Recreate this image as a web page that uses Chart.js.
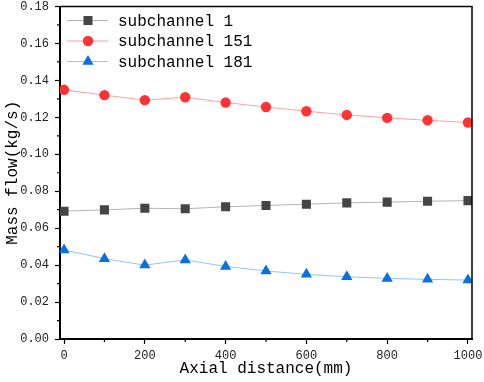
<!DOCTYPE html>
<html>
<head>
<meta charset="utf-8">
<script src="https://cdn.jsdelivr.net/npm/chart.js@4/dist/chart.umd.min.js"></script>
<style>
  html, body { margin: 0; padding: 0; background: #fff; }
  #wrap { width: 484px; height: 382px; }
</style>
</head>
<body>
<div id="wrap"><canvas id="chartFlow" width="484" height="382"></canvas></div>
<script>
'use strict';

// axial positions (mm)
const axialDistance = [0, 100, 200, 300, 400, 500, 600, 700, 800, 900, 1000];

// mass flow per subchannel (kg/s)
const flowSub1 = [0.0692, 0.0699, 0.0708, 0.0705, 0.0716, 0.0723, 0.0730, 0.0737, 0.0741, 0.0746, 0.0749];
const flowSub151 = [0.1349, 0.1320, 0.1293, 0.1309, 0.1280, 0.1256, 0.1233, 0.1213, 0.1197, 0.1184, 0.1172];
const flowSub181 = [0.0482, 0.0435, 0.0400, 0.0428, 0.0393, 0.0368, 0.0350, 0.0337, 0.0328, 0.0323, 0.0319];

const seriesNames = ['subchannel 1', 'subchannel 151', 'subchannel 181'];

// tick marks
const xMajorTicks = [0, 200, 400, 600, 800, 1000];
const xMinorTicks = [100, 300, 500, 700, 900];
const yMajorTicks = [0, 0.02, 0.04, 0.06, 0.08, 0.10, 0.12, 0.14, 0.16, 0.18];
const yMinorTicks = [0.01, 0.03, 0.05, 0.07, 0.09, 0.11, 0.13, 0.15, 0.17];

const FONT = "'Liberation Mono', 'DejaVu Sans Mono', monospace";

function toPoints(ys) {
  return axialDistance.map((x, i) => ({ x: x, y: ys[i] }));
}

// frame, minor ticks and legend
const framePlugin = {
  id: 'frame',
  afterDatasetsDraw(chart) {
    const { ctx, chartArea: a } = chart;
    const xs = chart.scales.x, ys = chart.scales.y;
    ctx.save();
    ctx.strokeStyle = '#000';
    ctx.lineWidth = 1.5;
    ctx.beginPath();
    ctx.moveTo(a.left, a.top);
    ctx.lineTo(a.right, a.top);
    ctx.lineTo(a.right, a.bottom);
    ctx.stroke();
    ctx.lineWidth = 1.2;
    ctx.beginPath();
    xMinorTicks.forEach(v => {
      const px = xs.getPixelForValue(v);
      ctx.moveTo(px, a.bottom);
      ctx.lineTo(px, a.bottom + 3);
    });
    yMinorTicks.forEach(v => {
      const py = ys.getPixelForValue(v);
      ctx.moveTo(a.left, py);
      ctx.lineTo(a.left - 3, py);
    });
    ctx.stroke();

    // legend
    ctx.font = '16px ' + FONT;
    ctx.textBaseline = 'middle';
    chart.data.datasets.forEach((ds, i) => {
      const yy = a.top + 14 + i * 20.5;
      ctx.strokeStyle = ds.borderColor;
      ctx.lineWidth = 1;
      ctx.beginPath();
      ctx.moveTo(a.left + 7, yy);
      ctx.lineTo(a.left + 48, yy);
      ctx.stroke();
      ctx.fillStyle = ds.pointBackgroundColor;
      ctx.strokeStyle = ds.pointBackgroundColor;
      Chart.helpers.drawPoint(ctx, {
        pointStyle: ds.pointStyle,
        radius: ds.pointRadius,
        borderWidth: 0,
        rotation: 0
      }, a.left + 28, yy);
      ctx.fillStyle = '#000';
      ctx.fillText(ds.label, a.left + 58, yy + 1);
    });
    ctx.restore();
  }
};

const config = {
  type: 'line',
  data: {
    datasets: [
      {
        label: seriesNames[0],
        data: toPoints(flowSub1),
        borderColor: '#b4b4b4',
        borderWidth: 1,
        pointStyle: 'rect',
        pointRadius: 6.4,
        pointBackgroundColor: '#454545',
        pointBorderWidth: 0
      },
      {
        label: seriesNames[1],
        data: toPoints(flowSub151),
        borderColor: '#ffa0a0',
        borderWidth: 1,
        pointStyle: 'circle',
        pointRadius: 5.2,
        pointBackgroundColor: '#ff3333',
        pointBorderWidth: 0
      },
      {
        label: seriesNames[2],
        data: toPoints(flowSub181),
        borderColor: '#93c6ef',
        borderWidth: 1,
        pointStyle: 'triangle',
        pointRadius: 6.5,
        pointBackgroundColor: '#0a6fdf',
        pointBorderWidth: 0
      }
    ]
  },
  options: {
    responsive: false,
    animation: false,
    devicePixelRatio: 1,
    layout: { padding: { top: 6, right: 12, left: 0, bottom: 0 } },
    plugins: {
      legend: { display: false },
      tooltip: { enabled: false }
    },
    scales: {
      x: {
        type: 'linear',
        min: -10,
        max: 1010,
        afterBuildTicks: s => { s.ticks = xMajorTicks.map(v => ({ value: v })); },
        afterFit: s => { s.height = 43; s.paddingLeft = 0; s.paddingRight = 0; },
        border: { display: true, color: '#000', width: 2 },
        grid: { drawOnChartArea: false, color: '#000', tickLength: 5, tickWidth: 1.2 },
        ticks: {
          color: '#222',
          padding: 5,
          maxRotation: 0,
          font: { family: FONT, size: 12 },
          callback: v => String(v)
        },
        title: {
          display: true,
          text: 'Axial distance(mm)',
          color: '#000',
          font: { family: FONT, size: 16 },
          padding: { top: 0, bottom: 4 }
        }
      },
      y: {
        min: 0,
        max: 0.18,
        afterBuildTicks: s => { s.ticks = yMajorTicks.map(v => ({ value: v })); },
        afterFit: s => { s.width = 60; s.paddingTop = 0; s.paddingBottom = 0; },
        border: { display: true, color: '#000', width: 2 },
        grid: { drawOnChartArea: false, color: '#000', tickLength: 5, tickWidth: 1.2 },
        ticks: {
          color: '#222',
          padding: 6,
          font: { family: FONT, size: 12 },
          callback: v => v.toFixed(2)
        },
        title: {
          display: true,
          text: 'Mass flow(kg/s)',
          color: '#000',
          font: { family: FONT, size: 16 },
          padding: { top: 3, bottom: 0 }
        }
      }
    }
  },
  plugins: [framePlugin]
};

new Chart(document.getElementById('chartFlow'), config);
</script>
</body>
</html>
